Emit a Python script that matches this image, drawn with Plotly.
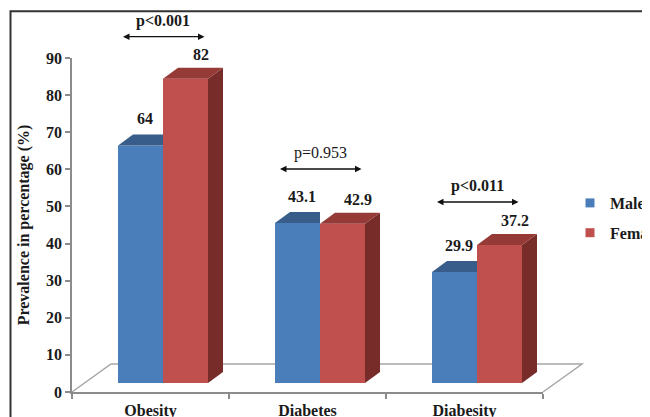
import plotly.graph_objects as go

# ---------------- data ----------------
categories = ["Obesity", "Diabetes", "Diabesity"]
male = [64, 43.1, 29.9]
female = [82, 42.9, 37.2]
male_labels = ["64", "43.1", "29.9"]
female_labels = ["82", "42.9", "37.2"]
p_texts = ["p<0.001", "p=0.953", "p<0.011"]
p_bold = [True, False, True]
y_ticks = [0, 10, 20, 30, 40, 50, 60, 70, 80, 90]
series_names = ["Male", "Female"]

# ---------------- styling / geometry ----------------
FONT = "Liberation Serif"
W, H = 650, 417
OFF = 8                               # page body margin of the html page
# plot area in window pixels: x 72..543, y 58..392
L, T = 72 - OFF, 58 - OFF
R = W - (543 - OFF)
B = H - (392 - OFF)
PW, PH = W - L - R, H - T - B
YMAX = 90
ux = PW / len(categories)          # px per category
uy = PH / YMAX                     # px per y unit

BLUE, BLUE_TOP = "#4a7ebb", "#385d8a"
RED, RED_TOP, RED_SIDE = "#c0504d", "#963a38", "#772c2a"
AXIS_GREY = "#8c8c8c"
FLOOR_GREY = "#a6a6a6"
TXT = "#1a1a1a"

PLANE_DX, PLANE_DY = 12.5, 9       # bar plane offset from front plane (px)
BAR_PX = 45                        # width of one bar (px)
DEPTH_DX, DEPTH_DY = 15, 11        # bar depth (px)
FLOOR_DX, FLOOR_DY = 39, 28        # floor depth (px)

w = BAR_PX / ux
ddx = DEPTH_DX / ux
ddy = DEPTH_DY / uy

fig = go.Figure()

# invisible trace to define the category axis
fig.add_trace(go.Scatter(x=categories, y=[0] * len(categories), mode="markers",
                         marker=dict(opacity=0), hoverinfo="skip", showlegend=False))

idx = list(range(len(categories)))
fig.add_trace(go.Bar(x=idx, y=male, name=series_names[0], marker_color=BLUE,
                     marker_line_width=0, xaxis="x2", yaxis="y2", showlegend=False))
fig.add_trace(go.Bar(x=idx, y=female, name=series_names[1], marker_color=RED,
                     marker_line_width=0, xaxis="x2", yaxis="y2", showlegend=False))


def poly(xs, ys, color):
    fig.add_trace(go.Scatter(x=xs + [xs[0]], y=ys + [ys[0]], fill="toself", mode="lines",
                             line=dict(width=0, color=color), fillcolor=color,
                             xaxis="x2", yaxis="y2", hoverinfo="skip", showlegend=False))


for i, (mv, fv) in enumerate(zip(male, female)):
    # male top face (clipped where the female bar is in front)
    poly([i - w, i, i, i - w + ddx], [mv, mv, mv + ddy, mv + ddy], BLUE_TOP)
    # female side face
    poly([i + w, i + w + ddx, i + w + ddx, i + w], [0, ddy, fv + ddy, fv], RED_SIDE)
    # female top face
    poly([i, i + w, i + w + ddx, i + ddx], [fv, fv, fv + ddy, fv + ddy], RED_TOP)

# legend entries
for name, col in zip(series_names, [BLUE, RED]):
    fig.add_trace(go.Scatter(x=[None], y=[None], mode="markers", name=name,
                             legendgroup=name,
                             marker=dict(symbol="square", size=9, color=col),
                             xaxis="x2", yaxis="y2"))

annotations = []
# data labels
for i, (mv, fv, ml, fl) in enumerate(zip(male, female, male_labels, female_labels)):
    annotations.append(dict(x=i - w / 2, y=mv, xref="x2", yref="y2", text=ml,
                            showarrow=False, xshift=4, yshift=27,
                            font=dict(family=FONT, size=16, color=TXT, weight="bold")))
    annotations.append(dict(x=i + w / 2, y=fv, xref="x2", yref="y2", text=fl,
                            showarrow=False, xshift=15, yshift=24,
                            font=dict(family=FONT, size=16, color=TXT, weight="bold")))


def px2paper(px, py):
    """window pixel -> paper coordinates"""
    return (px - OFF - L) / PW, (H - B - (py - OFF)) / PH


# p-value brackets (arrow heights in window px)
arrow_px = [36.7, 169, 202]
half = 41.5 / ux
for i, (pt, bold, apx) in enumerate(zip(p_texts, p_bold, arrow_px)):
    _, ypap = px2paper(0, apx)
    annotations.append(dict(x=i + half, y=ypap, xref="x2", yref="paper",
                            ax=i - half, ay=0, axref="x2", ayref="pixel",
                            text="", showarrow=True, arrowhead=2, arrowside="end+start",
                            arrowsize=1, arrowwidth=1.3, arrowcolor="#111"))
    annotations.append(dict(x=i, y=ypap + 16 / PH, xref="x2", yref="paper", text=pt,
                            showarrow=False, yanchor="middle",
                            font=dict(family=FONT, size=16, color=TXT,
                                      weight="bold" if bold else "normal")))

# floor outline
fx0, fy0 = px2paper(72, 392)
fx1, fy1 = px2paper(72 + FLOOR_DX, 392 - FLOOR_DY)
fx2, fy2 = px2paper(543 + FLOOR_DX, 392 - FLOOR_DY)
fx3, fy3 = px2paper(543, 392)
shapes = [
    dict(type="path", xref="paper", yref="paper", layer="below",
         path=f"M{fx0},{fy0} L{fx1},{fy1} L{fx2},{fy2} L{fx3},{fy3}",
         line=dict(color=FLOOR_GREY, width=1.5)),
]
# outer frame
bx0, by1 = px2paper(10.5, 11.2)
shapes.append(dict(type="rect", xref="paper", yref="paper", x0=bx0, y0=-1, x1=2, y1=by1,
                   line=dict(color="#333333", width=2)))

lgx, lgy = px2paper(570, 186)

fig.update_layout(
    width=W, height=H,
    margin=dict(l=L, r=R, t=T, b=B, autoexpand=False),
    plot_bgcolor="white", paper_bgcolor="white",
    barmode="group", bargap=1 - 2 * w, bargroupgap=0,
    font=dict(family=FONT, color=TXT),
    xaxis=dict(type="category", range=[-0.5, len(categories) - 0.5],
               tickson="boundaries", ticks="outside", ticklen=5, tickcolor=AXIS_GREY,
               tickwidth=1.5, showline=True, linecolor=AXIS_GREY, linewidth=1.5,
               showgrid=False, zeroline=False, ticklabelstandoff=3,
               tickfont=dict(family=FONT, size=16, color=TXT, weight="bold")),
    yaxis=dict(range=[0, YMAX], tickvals=y_ticks, ticks="outside", ticklen=5,
               tickcolor=AXIS_GREY, tickwidth=1.5, showline=True, linecolor=AXIS_GREY,
               linewidth=1.5, showgrid=False, zeroline=False,
               tickfont=dict(family=FONT, size=16, color=TXT, weight="bold"),
               title=dict(text="Prevalence in percentage (%)", standoff=12,
                          font=dict(family=FONT, size=16, color=TXT, weight="bold"))),
    xaxis2=dict(overlaying="x", range=[-0.5 - PLANE_DX / ux, len(categories) - 0.5 - PLANE_DX / ux],
                visible=False),
    yaxis2=dict(overlaying="y", range=[-PLANE_DY / uy, YMAX - PLANE_DY / uy], visible=False),
    legend=dict(x=lgx, y=lgy, xanchor="left", yanchor="top",
                font=dict(family=FONT, size=16, color=TXT, weight="bold"),
                bgcolor="rgba(0,0,0,0)", tracegroupgap=6, itemwidth=30),
    annotations=annotations,
    shapes=shapes,
)

fig.write_html("out.html")
